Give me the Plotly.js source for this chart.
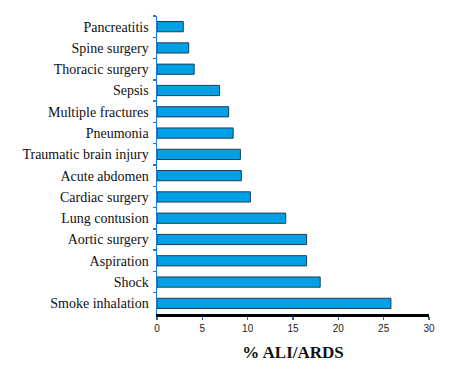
<!DOCTYPE html>
<html><head><meta charset="utf-8">
<script src="https://cdn.plot.ly/plotly-3.0.1.min.js"></script>
<style>body{margin:0;background:#fff}#c{width:451px;height:372px}</style>
</head><body><div id="c"></div>
<script>
var categories = ["Pancreatitis","Spine surgery","Thoracic surgery","Sepsis","Multiple fractures","Pneumonia","Traumatic brain injury","Acute abdomen","Cardiac surgery","Lung contusion","Aortic surgery","Aspiration","Shock","Smoke inhalation"];
var values = [2.9,3.5,4.1,6.9,7.9,8.4,9.2,9.3,10.3,14.2,16.5,16.5,18.0,25.8];
var xTicks = [0,5,10,15,20,25,30];

Plotly.newPlot('c', [{
  type:'bar', orientation:'h', y:categories, x:values, width:0.48,
  marker:{color:'#00a0e6', line:{color:'#2a3a4a', width:1}},
  hoverinfo:'none'
}], {
  width:451, height:372,
  margin:{l:157, r:22, t:16, b:58},
  paper_bgcolor:'#fff', plot_bgcolor:'#fff',
  showlegend:false,
  xaxis:{range:[0,30], tickvals:xTicks, ticktext:xTicks.map(String), showgrid:false, zeroline:false,
    showline:true, linecolor:'#000', linewidth:2.5, ticks:'outside', ticklen:3, tickcolor:'#1a6fb0', tickwidth:1.5,
    tickfont:{family:'Liberation Sans Narrow, Liberation Sans, Arial', size:10, color:'#222'},
    title:{text:'<b>% ALI/ARDS</b>', font:{family:'Liberation Serif, Times New Roman', size:17, color:'#111'}, standoff:14}},
  yaxis:{type:'category', autorange:'reversed', showgrid:false, zeroline:false, showline:true, linecolor:'#1a7fd0', linewidth:1.5,
    ticks:'outside', tickson:'boundaries', ticklen:3, tickcolor:'#1a7fd0', tickwidth:1.5,
    tickfont:{family:'Liberation Serif, Times New Roman', size:14, color:'#111'}, ticklabelstandoff:4}
}, {staticPlot:true});
</script></body></html>
